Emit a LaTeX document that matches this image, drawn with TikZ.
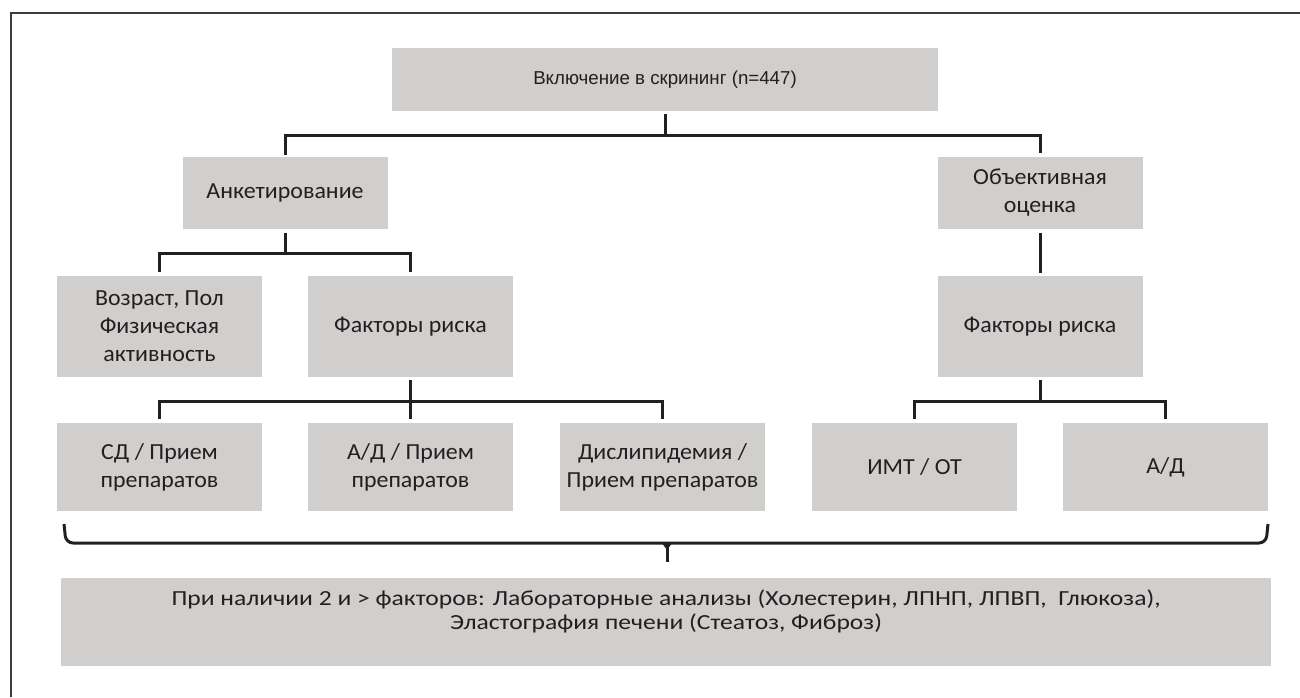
\documentclass[tikz,border=0pt]{standalone}
\usepackage{fontspec}
\setmainfont{Carlito}
\newfontfamily\boxfont[FakeStretch=1.04]{Carlito}
\newfontfamily\botfont[FakeStretch=1.19]{Carlito}
\newfontfamily\arialfont{Liberation Sans}
\usetikzlibrary{calc}
\definecolor{boxgray}{HTML}{D0CFCD}
\definecolor{ink}{HTML}{231F20}
\definecolor{framec}{HTML}{3C3C3C}
\begin{document}
\begin{tikzpicture}[x=1pt,y=-1pt,
  box/.style={fill=boxgray, draw=none, text=ink, align=center, inner sep=0pt,
    minimum width=205pt, font=\boxfont\fontsize{23}{28}\selectfont},
  conn/.style={draw=ink, line width=3pt, line join=miter}]
\useasboundingbox (0,0) rectangle (1300,697);
\draw[framec, line width=1.6pt] (11,697) -- (11,13) -- (1300,13);

% nodes
\node[box, minimum width=546pt, minimum height=63pt, font=\arialfont\fontsize{18.7}{23}\selectfont] (top) at (665,79.5) {Включение в скрининг (n=447)};
\node[box, minimum height=72pt] (ank) at (285,193) {Анкетирование};
\node[box, minimum height=72pt] (obj) at (1040,193) {Объективная\\оценка};
\node[box, minimum height=101pt] (vozr) at (159.5,326.5) {Возраст, Пол\\Физическая\\активность};
\node[box, minimum height=101pt] (fakL) at (410.5,326.5) {Факторы риска};
\node[box, minimum height=101pt] (fakR) at (1040,326.5) {Факторы риска};
\node[box, minimum height=88pt] (sd) at (159.5,467) {СД / Прием\\препаратов};
\node[box, minimum height=88pt] (ad) at (410.5,467) {А/Д / Прием\\препаратов};
\node[box, minimum height=88pt] (dis) at (662.5,467) {Дислипидемия /\\Прием препаратов};
\node[box, minimum height=88pt] (imt) at (914.5,467) {ИМТ / ОТ};
\node[box, minimum height=88pt] (adR) at (1165.5,467) {А/Д};
\node[box, minimum width=1210pt, minimum height=88pt, font=\botfont\fontsize{21.5}{24.5}\selectfont] (bot) at (666,622)
  {При наличии 2 и > факторов: Лабораторные анализы (Холестерин, ЛПНП, ЛПВП,\ \ Глюкоза),\\Эластография печени (Стеатоз, Фиброз)\\\mbox{}};

% bus coordinates
\coordinate (bus1) at (665,135);
\coordinate (bus2) at (285,253);
\coordinate (bus3) at (410.5,401);
\coordinate (bus4) at (1040,401);
\coordinate (braceL) at (64,524);
\coordinate (braceR) at (1268,524);
\coordinate (braceM) at (667,543);

% connectors
\draw[conn] ([yshift=-3pt]top.south) -- (bus1);
\draw[conn] ([yshift=2pt]ank.north) |- (bus1) -| ([yshift=4pt]obj.north);
\draw[conn] ([yshift=-4pt]ank.south) -- (bus2);
\draw[conn] ([yshift=4pt]vozr.north) |- (bus2) -| ([yshift=4pt]fakL.north);
\draw[conn] ([yshift=-4pt]obj.south) -- ([yshift=3pt]fakR.north);
\draw[conn] ([yshift=-3pt]fakL.south) -- (bus3);
\draw[conn] ([yshift=4pt]sd.north) |- (bus3) -| ([yshift=4pt]dis.north);
\draw[conn] ([yshift=4pt]ad.north) -- (bus3);
\draw[conn] ([yshift=-3pt]fakR.south) -- (bus4);
\draw[conn] ([yshift=4pt]imt.north) |- (bus4) -| ([yshift=4pt]adR.north);

% brace
\draw[conn, rounded corners=7pt] (braceL) -- ($(braceL|-braceM)+(2,0)$) -- ($(braceR|-braceM)+(-2,0)$) -- (braceR);
\draw[conn] (braceM) -- ([yshift=16pt]bot.north -| braceM);
\fill[ink] ($(braceM)+(-5,0)$) -- ($(braceM)+(5,0)$) -- ($(braceM)+(1.5,5)$) -- ($(braceM)+(-1.5,5)$) -- cycle;
\end{tikzpicture}
\end{document}
